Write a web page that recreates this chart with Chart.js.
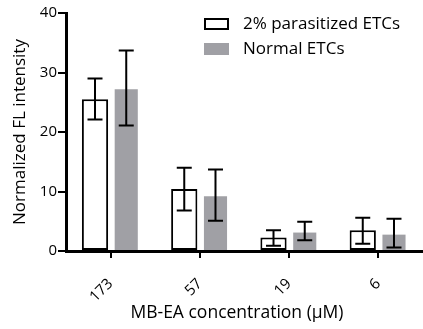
<!DOCTYPE html>
<html>
<head>
<meta charset="utf-8">
<script src="https://cdn.jsdelivr.net/npm/chart.js@4/dist/chart.umd.min.js"></script>
<style>
  html, body { margin: 0; padding: 0; background: #fff; }
</style>
</head>
<body>
<canvas id="chart" width="423" height="329"></canvas>
<script>
// ---- data ----
const concentrations = ["173", "57", "19", "6"];
const parasitized     = [25.5, 10.4, 2.25, 3.5];
const parasitizedHigh = [29.0, 14.0, 3.5, 5.6];
const parasitizedLow  = [22.1, 6.8, 0.9, 1.2];
const normal          = [27.2, 9.2, 3.1, 2.75];
const normalHigh      = [33.7, 13.7, 4.9, 5.4];
const normalLow       = [21.1, 5.1, 1.8, 0.6];
const seriesNames = ["2% parasitized ETCs", "Normal ETCs"];
const xTitle = "MB-EA concentration (\u03bcM)";

const FONT = "'Open Sans', sans-serif";

/* error bars drawn on top of the bars */
const errorBars = {
    id: "errorBars",
    afterDatasetsDraw(chart) {
        const ctx = chart.ctx;
        const y = chart.scales.y;
        ctx.save();
        ctx.strokeStyle = "#000";
        ctx.lineWidth = 2;
        chart.data.datasets.forEach((ds, i) => {
            chart.getDatasetMeta(i).data.forEach((bar, j) => {
                const top = y.getPixelForValue(ds.errHigh[j]);
                const bot = y.getPixelForValue(ds.errLow[j]);
                const half = 7.5;
                ctx.beginPath();
                ctx.moveTo(bar.x, top);
                ctx.lineTo(bar.x, bot);
                ctx.moveTo(bar.x - half, top);
                ctx.lineTo(bar.x + half, top);
                ctx.moveTo(bar.x - half, bot);
                ctx.lineTo(bar.x + half, bot);
                ctx.stroke();
            });
        });
        ctx.restore();
    }
};

/* legend inside the plot (top right) + x title, which sits a bit left of centre */
const extras = {
    id: "extras",
    afterDraw(chart) {
        const ctx = chart.ctx;
        ctx.save();
        ctx.font = "17px " + FONT;
        ctx.textBaseline = "middle";
        chart.data.datasets.forEach((ds, i) => {
            const bx = 204, by = 18 + i * 25;
            ctx.fillStyle = ds.backgroundColor;
            ctx.fillRect(bx, by, 25, 12);
            if (ds.borderWidth) {
                ctx.strokeStyle = ds.borderColor;
                ctx.lineWidth = 2;
                ctx.strokeRect(bx + 1, by + 1, 23, 10);
            }
            ctx.fillStyle = "#000";
            ctx.fillText(ds.label, 243, by + 6);
        });
        ctx.textAlign = "center";
        ctx.font = "17.5px " + FONT;
        ctx.fillText(xTitle, 237, 313);
        ctx.restore();
    }
};

new Chart(document.getElementById("chart"), {
    type: "bar",
    data: {
        labels: concentrations,
        datasets: [
            {
                label: seriesNames[0],
                data: parasitized,
                errHigh: parasitizedHigh,
                errLow: parasitizedLow,
                backgroundColor: "#ffffff",
                borderColor: "#000000",
                borderWidth: 2,
                borderSkipped: false,
                barPercentage: 0.84,
                categoryPercentage: 0.7
            },
            {
                label: seriesNames[1],
                data: normal,
                errHigh: normalHigh,
                errLow: normalLow,
                backgroundColor: "#a0a0a5",
                borderWidth: 0,
                barPercentage: 0.74,
                categoryPercentage: 0.7
            }
        ]
    },
    options: {
        responsive: false,
        animation: false,
        layout: { padding: { left: 0, right: -3, top: 13, bottom: 0 } },
        plugins: {
            legend: { display: false },
            tooltip: { enabled: false }
        },
        scales: {
            x: {
                afterFit: s => { s.height = 78; },
                grid: {
                    offset: false,
                    drawOnChartArea: false,
                    color: "#000",
                    lineWidth: 2,
                    tickLength: 7
                },
                border: { color: "#000", width: 3 },
                ticks: {
                    color: "#000",
                    font: { family: FONT, size: 15 },
                    minRotation: 45,
                    maxRotation: 45,
                    padding: 17
                }
            },
            y: {
                min: 0,
                max: 40,
                afterFit: s => { s.width = 66; },
                ticks: {
                    stepSize: 10,
                    color: "#000",
                    font: { family: FONT, size: 15 },
                    padding: 1
                },
                grid: {
                    drawOnChartArea: false,
                    color: "#000",
                    lineWidth: 2,
                    tickLength: 8
                },
                border: { color: "#000", width: 3 },
                title: {
                    display: true,
                    text: "Normalized FL intensity",
                    color: "#000",
                    font: { family: FONT, size: 17 },
                    padding: { top: 10, bottom: 0 }
                }
            }
        }
    },
    plugins: [errorBars, extras]
});
</script>
</body>
</html>
